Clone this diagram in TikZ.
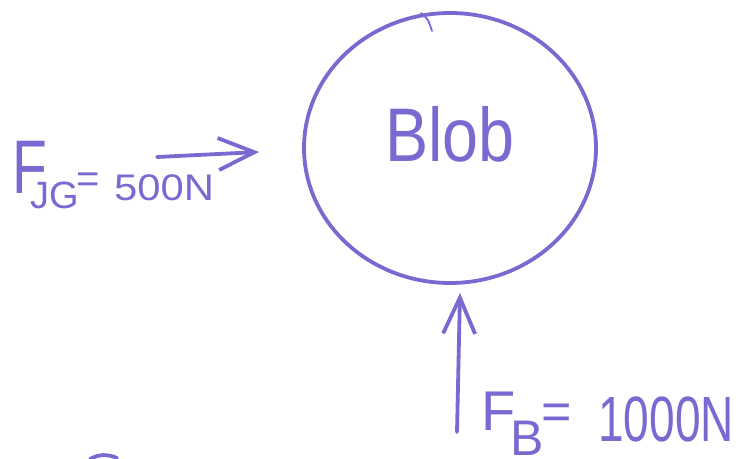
\documentclass[tikz,border=0pt]{standalone}
\usepackage{fontspec}
\setmainfont{Liberation Sans}
\usetikzlibrary{arrows.meta,shapes.geometric}
\definecolor{ink}{RGB}{120,106,208}
\begin{document}
\begin{tikzpicture}[x=1pt,y=-1pt,
  pen/.style={draw=ink, line width=3.8pt, line cap=round, line join=round},
  lbl/.style={text=ink, inner sep=0pt, anchor=base west},
  barb/.style={-{Straight Barb[length=36pt,width=32pt,line width=3.8pt]}}]
\useasboundingbox (0,0) rectangle (738,458);
% blob
\node[pen, ellipse, minimum width=292pt, minimum height=270pt] (blob) at (450,148) {};
\draw[pen, line width=1.8pt] (421,13) .. controls (428,19) .. (432,31);
\node[text=ink, inner sep=0pt, font=\fontsize{76}{76}\selectfont] (name) at (450,134) {\scalebox{0.85}[1]{Blob}};
% left force
\coordinate (fjgtail) at (157,157);
\coordinate (fjgtip) at (259,152);
\draw[pen, barb] (fjgtail) -- (fjgtip);
\node[lbl, font=\fontsize{76}{76}\selectfont] (fjgF) at (12,193) {\scalebox{0.75}[1]{F}};
\node[lbl, font=\fontsize{38}{38}\selectfont] (fjgsub) at (30,208) {JG};
\node[lbl, font=\fontsize{40}{40}\selectfont] (fjgeq) at (76,192) {=};
\node[lbl, font=\fontsize{37}{37}\selectfont] (fjgval) at (114,200) {\scalebox{1.13}[1]{500N}};
% upward force
\coordinate (fbtail) at (457,432);
\coordinate (fbtip) at (460,293);
\draw[pen, barb] (fbtail) -- (fbtip);
\node[lbl, font=\fontsize{56}{56}\selectfont] (fbF) at (481,430) {F};
\node[lbl, font=\fontsize{50}{50}\selectfont] (fbsub) at (510,455) {B};
\node[lbl, font=\fontsize{52}{52}\selectfont] (fbeq) at (541,429) {=};
\node[lbl, font=\fontsize{64}{64}\selectfont] (fbval) at (598,441) {\scalebox{0.72}[1]{1000N}};
% stray stroke
\draw[pen] (90,459) .. controls (99,454) and (108,454) .. (117,458);
\end{tikzpicture}
\end{document}
